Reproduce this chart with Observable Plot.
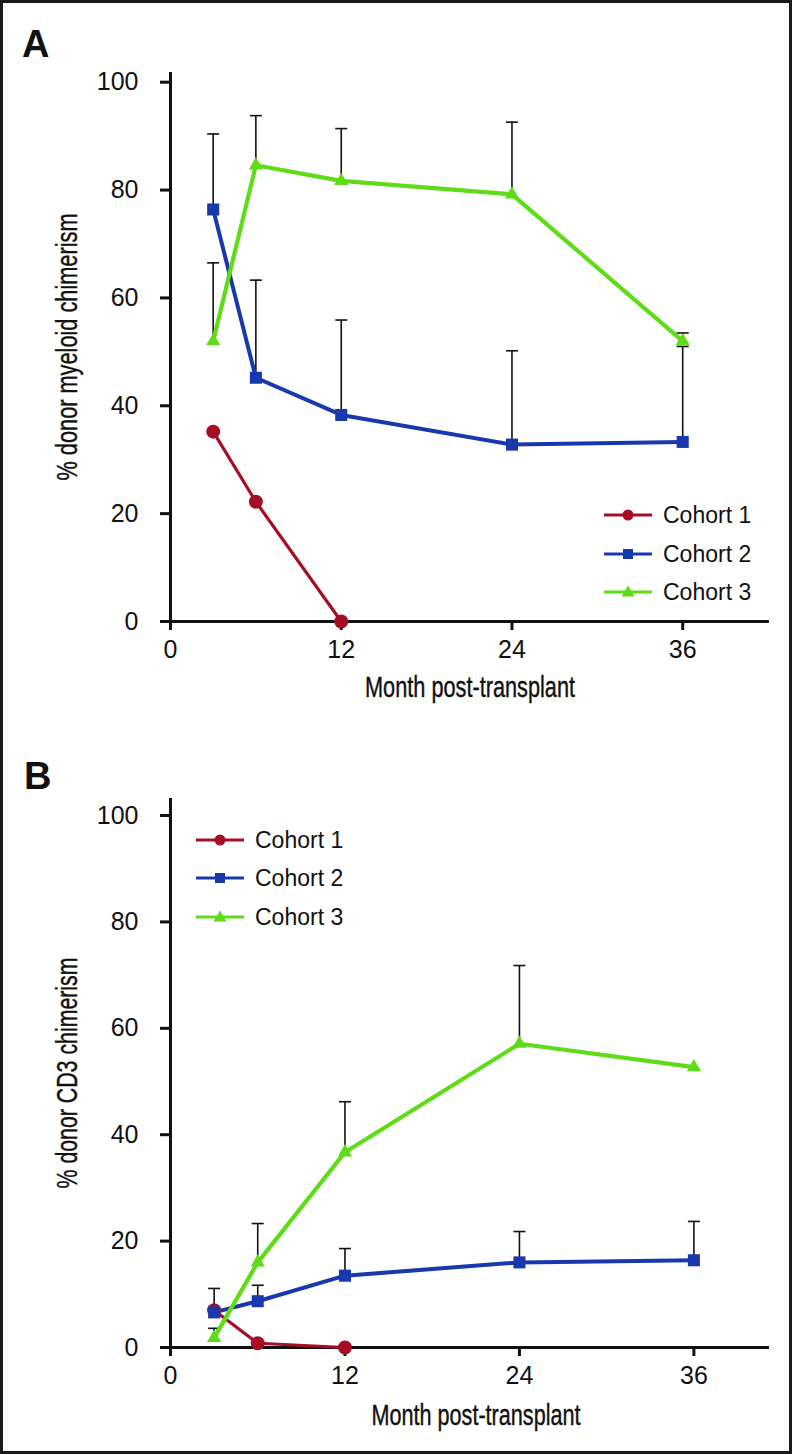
<!DOCTYPE html>
<html>
<head>
<meta charset="utf-8">
<script src="https://cdn.jsdelivr.net/npm/d3@7"></script>
<script src="https://cdn.jsdelivr.net/npm/@observablehq/plot@0.6"></script>
<style>
  body { margin: 0; background: #fff; }
  #wrap { position: relative; width: 794px; height: 1455px; overflow: hidden; font-family: "Liberation Sans", Arial, Helvetica, sans-serif; }
  #frame { position: absolute; left: 0; top: 0; width: 792px; height: 1454px; box-sizing: border-box; border: 3.5px solid #1a1a1a; }
  .panel { position: absolute; left: 0; }
  .letter { position: absolute; font-weight: bold; font-size: 38px; color: #111; line-height: 1; }
  .legrow { position: absolute; display: flex; align-items: center; height: 30px; font-size: 23px; color: #111; }
  .legrow svg { margin-right: 11px; }
</style>
</head>
<body>
<div id="wrap">
  <div id="frame"></div>
  <div class="letter" style="left:22px; top:25px;">A</div>
  <div class="letter" style="left:24px; top:757px;">B</div>
  <div id="panelA" class="panel" style="top:0px;"></div>
  <div id="panelB" class="panel" style="top:720px;"></div>
  <div id="legendA"></div>
  <div id="legendB"></div>
</div>
<script>
// ---- data ----
const cohorts = ["Cohort 1", "Cohort 2", "Cohort 3"];
const cohortColors = ["#a50e25", "#1a38ad", "#5edc17"];
const cohortSymbols = ["circle", "square", "triangle"];
const months = [3, 6, 12, 24, 36];
const xTicks = [0, 12, 24, 36];
const yTicks = [0, 20, 40, 60, 80, 100];
const xTitle = "Month post-transplant";

// Panel A: % donor myeloid chimerism
const myeloidCohort1 = [35.2, 22.2, 0];
const myeloidCohort2 = [76.4, 45.2, 38.3, 32.8, 33.3];
const myeloidCohort3 = [52.0, 84.6, 81.7, 79.2, 52.0];
const myeloidErrTop2 = [90.4, 63.3, 55.9, 50.2, 51.0];
const myeloidErrTop3 = [66.5, 93.8, 91.4, 92.6, 53.5];

// Panel B: % donor CD3 chimerism
const cd3Cohort1 = [7.0, 0.8, 0];
const cd3Cohort2 = [6.6, 8.7, 13.5, 16.0, 16.4];
const cd3Cohort3 = [1.8, 16.0, 36.7, 57.1, 52.7];
const cd3ErrTop2 = [11.1, 11.7, 18.6, 21.8, 23.7];
const cd3ErrTop3 = [3.6, 23.3, 46.2, 71.8, null];

function rows(cohort, values, tops) {
  return values.map((v, i) => ({cohort, month: months[i], value: v, top: tops ? tops[i] : null}));
}

const capSymbol = {
  draw(context) { context.moveTo(-6, 0); context.lineTo(6, 0); }
};

const tickFont = "'Liberation Sans', Arial, Helvetica, sans-serif";

function panel({series, xMax, yMax, height, marginTop, marginBottom, yTitle, yTitleLen, xTitleLen, xTitleDy, xTitleDx}) {
  const all = series.flat();
  const errs = all.filter(d => d.top != null);
  const sizes = {circle: 7, square: 6.8, triangle: 5.3};
  const widths = [3.2, 4, 4.2];
  const marks = [
    Plot.axisY({ticks: yTicks, tickSize: 10, tickPadding: 22, strokeWidth: 3, label: null, fontSize: 25, fontFamily: tickFont}),
    Plot.axisX({ticks: xTicks, tickSize: 9, tickPadding: 10, strokeWidth: 3, label: null, fontSize: 25, fontFamily: tickFont}),
    Plot.ruleX([0], {y1: 0, y2: yMax, strokeWidth: 3, stroke: "#111"}),
    Plot.ruleY([0], {strokeWidth: 3, stroke: "#111"}),
    Plot.ruleX(errs, {x: "month", y1: "value", y2: "top", stroke: "#111", strokeWidth: 1.6}),
    Plot.dot(errs, {x: "month", y: "top", symbol: capSymbol, stroke: "#111", fill: "none", strokeWidth: 1.6}),
  ];
  cohorts.forEach((c, i) => {
    marks.push(Plot.line(all.filter(d => d.cohort === c), {x: "month", y: "value", stroke: cohortColors[i], strokeWidth: widths[i], strokeLinejoin: "round"}));
  });
  cohorts.forEach((c, i) => {
    marks.push(Plot.dot(all.filter(d => d.cohort === c), {
      x: "month", y: "value", fill: cohortColors[i], symbol: cohortSymbols[i], r: sizes[cohortSymbols[i]]
    }));
  });
  marks.push(Plot.text([yTitle], {frameAnchor: "left", dx: -103, rotate: -90, textAnchor: "middle", lineAnchor: "middle", fontSize: 29, fontFamily: tickFont, fill: "#111", stroke: "#111", strokeWidth: 0.4}));
  marks.push(Plot.text([xTitle], {frameAnchor: "bottom", dy: xTitleDy, dx: xTitleDx, textAnchor: "middle", lineAnchor: "middle", fontSize: 29, fontFamily: tickFont, fill: "#111", stroke: "#111", strokeWidth: 0.4}));
  const svg = Plot.plot({
    width: 794,
    height,
    marginLeft: 170,
    marginRight: 25,
    marginTop,
    marginBottom,
    x: {domain: [0, xMax]},
    y: {domain: [0, yMax]},
    style: {fontFamily: tickFont, fontSize: "25px", color: "#111", background: "transparent", overflow: "visible"},
    marks
  });
  // condensed look for axis titles (as in the original figure)
  svg.querySelectorAll("text").forEach(t => {
    if (t.textContent === yTitle) { t.setAttribute("textLength", yTitleLen); t.setAttribute("lengthAdjust", "spacingAndGlyphs"); }
    if (t.textContent === xTitle) { t.setAttribute("textLength", xTitleLen); t.setAttribute("lengthAdjust", "spacingAndGlyphs"); }
  });
  return svg;
}

document.getElementById("panelA").append(panel({
  series: [rows(cohorts[0], myeloidCohort1), rows(cohorts[1], myeloidCohort2, myeloidErrTop2), rows(cohorts[2], myeloidCohort3, myeloidErrTop3)],
  xMax: 42.1, yMax: 101.8, height: 710, marginTop: 72, marginBottom: 89,
  yTitle: "% donor myeloid chimerism", yTitleLen: 267, xTitleLen: 210, xTitleDy: 66, xTitleDx: 0
}));

document.getElementById("panelB").append(panel({
  series: [rows(cohorts[0], cd3Cohort1), rows(cohorts[1], cd3Cohort2, cd3ErrTop2), rows(cohorts[2], cd3Cohort3, cd3ErrTop3)],
  xMax: 41.2, yMax: 103.2, height: 735, marginTop: 78, marginBottom: 108,
  yTitle: "% donor CD3 chimerism", yTitleLen: 231, xTitleLen: 209, xTitleDy: 68, xTitleDx: 6
}));

// ---- legends ----
function legend(containerId, left, centers) {
  const el = document.getElementById(containerId);
  cohorts.forEach((c, i) => {
    const row = document.createElement("div");
    row.className = "legrow";
    row.style.left = left + "px";
    row.style.top = (centers[i] - 15) + "px";
    const col = cohortColors[i];
    let marker;
    if (cohortSymbols[i] === "circle") marker = `<circle cx="24" cy="15" r="5.5" fill="${col}"/>`;
    else if (cohortSymbols[i] === "square") marker = `<rect x="19" y="10" width="10" height="10" fill="${col}"/>`;
    else marker = `<path d="M24,8.5 L30.5,19.5 L17.5,19.5 Z" fill="${col}"/>`;
    row.innerHTML = `<svg width="48" height="30"><line x1="0" y1="15" x2="48" y2="15" stroke="${col}" stroke-width="3"/>${marker}</svg><span>${c}</span>`;
    el.append(row);
  });
}
legend("legendA", 604, [515, 554, 592]);
legend("legendB", 196, [840, 878, 917]);
</script>
</body>
</html>
